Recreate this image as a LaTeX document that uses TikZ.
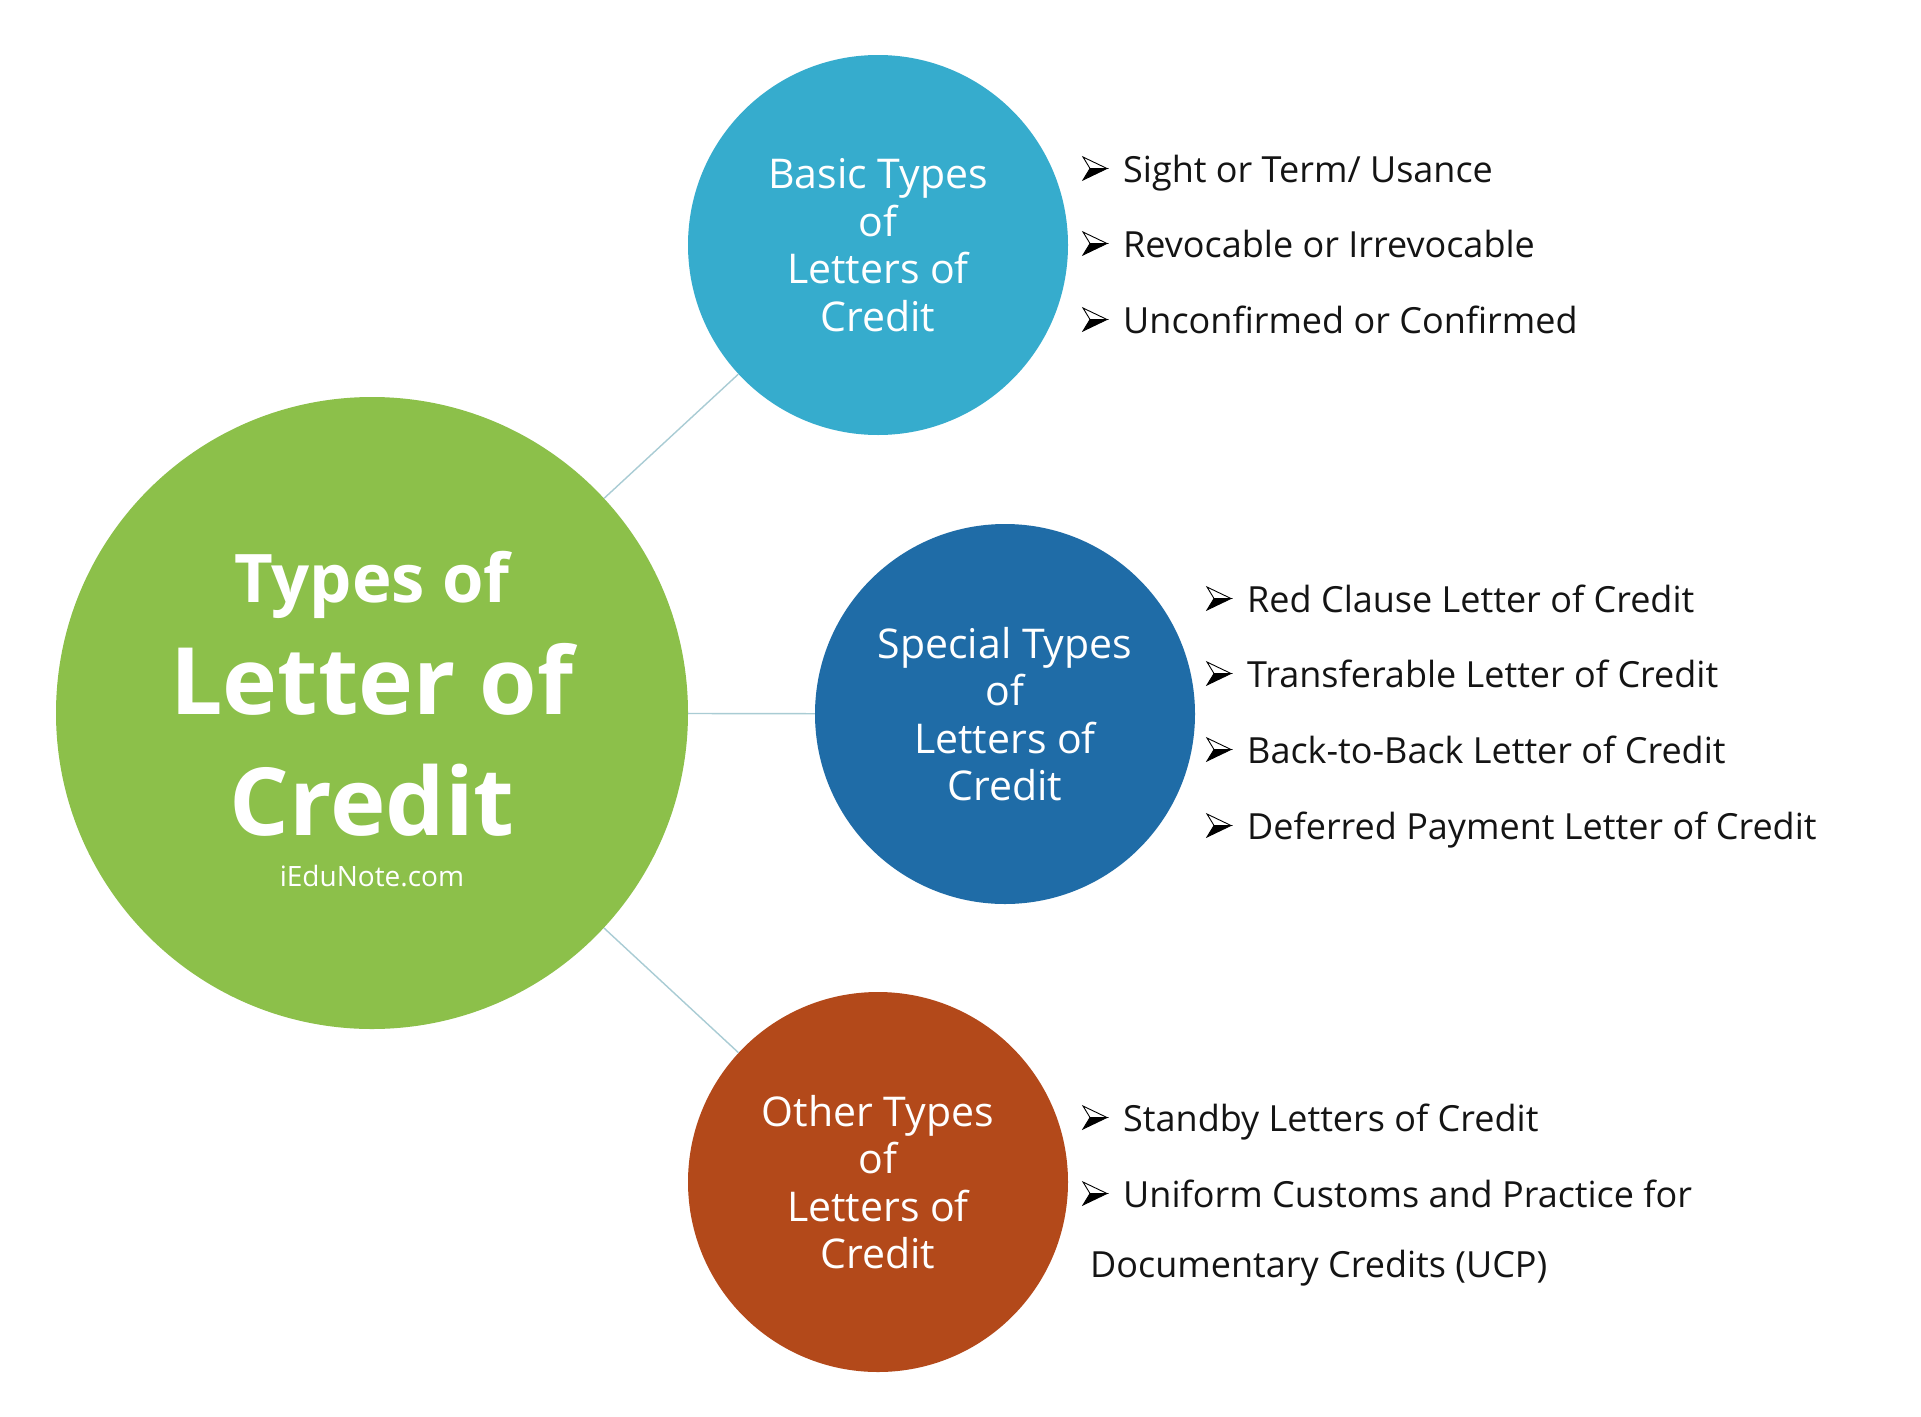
\documentclass[tikz,border=0pt]{standalone}
\usepackage{fontspec}
\setmainfont{Open Sans}
\definecolor{lcgreen}{HTML}{8CC04A}
\definecolor{lccyan}{HTML}{36ACCD}
\definecolor{lcblue}{HTML}{1F6CA7}
\definecolor{lcorange}{HTML}{B3491A}
\definecolor{lcline}{HTML}{A9CCD4}
\tikzset{
  maincircle/.style={circle, fill=lcgreen, minimum size=632pt, inner sep=0pt},
  subcircle/.style={circle, minimum size=380pt, inner sep=0pt, text=white, align=center,
    font=\fontsize{41}{47.5}\selectfont},
  titletext/.style={anchor=base, inner sep=0pt, text=white},
  item/.style={anchor=base west, inner sep=0pt, text=black!92,
    font=\fontsize{36}{44}\selectfont},
  link/.style={draw=lcline, line width=1.4pt},
  lcbullet/.pic={
    \filldraw[fill=white, line width=0.9pt] (0,-11.5) -- (24,0) -- (7,0) -- cycle;
    \filldraw[line width=0.9pt] (7,0) -- (24,0) -- (0,11.5) -- cycle;
  }
}
\begin{document}
\begin{tikzpicture}[x=1pt, y=-1pt]
\fill[white] (0,0) rectangle (1921,1416);
\useasboundingbox (0,0) rectangle (1921,1416);

% circles
\node[maincircle] (lc) at (372,713) {};
\node[subcircle, fill=lccyan] (basic) at (878,245) {Basic Types\\of\\Letters of\\Credit};
\node[subcircle, fill=lcblue] (special) at (1005,714) {Special Types\\of\\Letters of\\Credit};
\node[subcircle, fill=lcorange] (other) at (878,1182) {Other Types\\of\\Letters of\\Credit};

\draw[link] (lc) -- (basic);
\draw[link] (lc) -- (special);
\draw[link] (lc) -- (other);

% title
\node[titletext, font=\bfseries\fontsize{67}{80}\selectfont] (tt1) at (372,602) {Types of};
\node[titletext, font=\bfseries\fontsize{93}{110}\selectfont] (tt2) at (372,714) {Letter of};
\node[titletext, font=\bfseries\fontsize{94}{110}\selectfont] (tt3) at (372,835) {Credit};
\node[titletext, font=\fontsize{28}{32}\selectfont] (site) at (372,886) {iEduNote.com};

% basic types
\node[item] (b1) at (1123,182) {Sight or Term/ Usance};
\node[item] (b2) at (1123,257) {Revocable or Irrevocable};
\node[item] (b3) at (1123,333) {Unconfirmed or Confirmed};

% special types
\node[item] (s1) at (1247,612) {Red Clause Letter of Credit};
\node[item] (s2) at (1247,687) {Transferable Letter of Credit};
\node[item] (s3) at (1247,763) {Back-to-Back Letter of Credit};
\node[item] (s4) at (1247,839) {Deferred Payment Letter of Credit};

% other types
\node[item] (o1) at (1123,1131) {Standby Letters of Credit};
\node[item] (o2) at (1123,1207) {Uniform Customs and Practice for};
\node[item] (o3) at (1090,1277) {Documentary Credits (UCP)};

\foreach \n in {b1,b2,b3,s1,s2,s3,s4,o1,o2}
  \path (\n.base west) ++(-40,-13.5) pic {lcbullet};
\end{tikzpicture}
\end{document}
